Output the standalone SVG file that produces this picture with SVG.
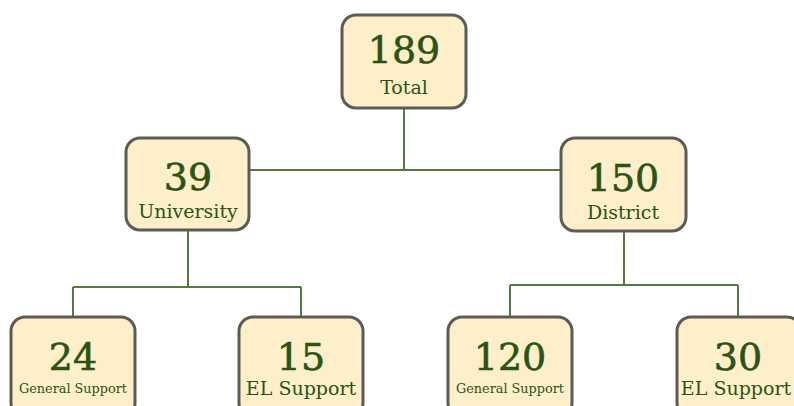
<svg xmlns="http://www.w3.org/2000/svg" width="794" height="406" viewBox="0 0 794 406">
<style>
.box{fill:#fdefc9;stroke:#5c5b57;stroke-width:3}
.num{font-family:"DejaVu Serif","Liberation Serif",serif;font-size:38px;fill:#2c5314;stroke:#2c5314;stroke-width:0.6;text-anchor:middle}
.lbl{font-family:"DejaVu Serif","Liberation Serif",serif;font-size:19px;fill:#2c5314;text-anchor:middle}
.sm{font-family:"DejaVu Serif","Liberation Serif",serif;font-size:12.8px;fill:#2c5314;text-anchor:middle}
.conn{fill:none;stroke:#56783e;stroke-width:2}
</style>
<rect width="794" height="406" fill="#ffffff"/>
<g id="connectors">
<path class="conn" d="M404 108 V170 M249 170 H560"/>
<path class="conn" d="M188 230 V287 M73 287 H301 M73 287 V316 M301 287 V316"/>
<path class="conn" d="M624 232 V285 M510 285 H738 M510 285 V316 M738 285 V316"/>
</g>
<g id="total">
<rect class="box" x="342" y="15" width="124" height="93" rx="14"/>
<text class="num" x="404" y="63">189</text>
<text class="lbl" x="404" y="94" font-size="20">Total</text>
</g>
<g id="university">
<rect class="box" x="126" y="138" width="123" height="92" rx="14"/>
<text class="num" x="188" y="190">39</text>
<text class="lbl" x="188" y="218">University</text>
</g>
<g id="district">
<rect class="box" x="561" y="138" width="125" height="93" rx="14"/>
<text class="num" x="623" y="191">150</text>
<text class="lbl" x="623" y="219">District</text>
</g>
<g id="general-support-university">
<rect class="box" x="11" y="317" width="124" height="100" rx="14"/>
<text class="num" x="73" y="370">24</text>
<text class="sm" x="73" y="393">General Support</text>
</g>
<g id="el-support-university">
<rect class="box" x="239" y="317" width="124" height="100" rx="14"/>
<text class="num" x="301" y="370">15</text>
<text class="lbl" x="301" y="395" font-size="17.5">EL Support</text>
</g>
<g id="general-support-district">
<rect class="box" x="448" y="317" width="124" height="100" rx="14"/>
<text class="num" x="510" y="370">120</text>
<text class="sm" x="510" y="393">General Support</text>
</g>
<g id="el-support-district">
<rect class="box" x="677" y="317" width="124" height="100" rx="14"/>
<text class="num" x="738" y="370">30</text>
<text class="lbl" x="736" y="395" font-size="17.5">EL Support</text>
</g>
</svg>
